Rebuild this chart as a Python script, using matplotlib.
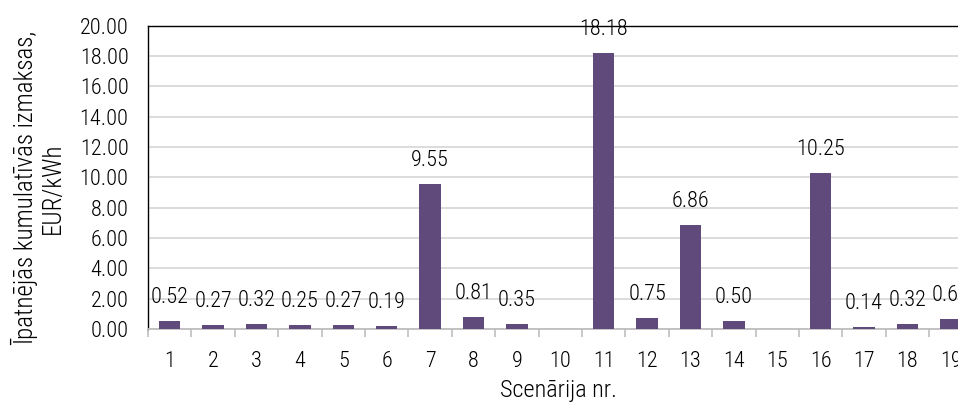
import numpy as np
import matplotlib
matplotlib.use("Agg")
import matplotlib.pyplot as plt
from matplotlib.ticker import FixedLocator, FormatStrFormatter

plt.rcParams['font.family'] = ['Roboto Condensed', 'Liberation Sans', 'DejaVu Sans']
plt.rcParams['font.weight'] = 'light'

# Scenario numbers and specific cumulative cost (EUR/kWh); scenarios 10 and 15 have no value
scenarios = list(range(1, 20))
costs = [0.52, 0.27, 0.32, 0.25, 0.27, 0.19, 9.55, 0.81, 0.35, np.nan,
         18.18, 0.75, 6.86, 0.50, np.nan, 10.25, 0.14, 0.32, 0.66]
y_ticks = [0, 2, 4, 6, 8, 10, 12, 14, 16, 18, 20]

bar_color = '#604A7B'
fs = 16

W, H = 958, 408
fig = plt.figure(figsize=(W / 100, H / 100), dpi=100)
ax = fig.add_axes([148 / W, 79 / H, (972.6 - 148) / W, 303.5 / H])

x = np.array(scenarios, dtype=float)
vals = np.array(costs, dtype=float)
ax.bar(x, np.nan_to_num(vals), width=0.49, color=bar_color, zorder=3)

for xi, v in zip(x, vals):
    if np.isnan(v):
        continue
    ax.annotate(f"{v:.2f}", xy=(xi, v), xytext=(0, 17), textcoords='offset points',
                ha='center', va='center', fontsize=fs, color='#000000',
                annotation_clip=False, zorder=4)

ax.set_xlim(0.5, len(scenarios) + 0.5)
ax.set_ylim(0, 20)

ax.yaxis.set_major_locator(FixedLocator(y_ticks))
ax.yaxis.set_major_formatter(FormatStrFormatter('%.2f'))
ax.tick_params(axis='y', length=0, pad=14, labelsize=fs)

ax.set_xticks(x)
ax.set_xticklabels([str(s) for s in scenarios])
ax.set_xticks(np.arange(0.5, len(scenarios) + 1, 1.0), minor=True)
ax.tick_params(axis='x', which='major', length=0, pad=16, labelsize=fs)
ax.tick_params(axis='x', which='minor', length=6, width=1.2, color='#BFBFBF')

ax.grid(axis='y', color='#D9D9D9', linewidth=1.3, zorder=0)
ax.set_axisbelow(True)

for side in ('top', 'left', 'right'):
    ax.spines[side].set_color('#000000')
    ax.spines[side].set_linewidth(1.0)
ax.spines['bottom'].set_color('#BFBFBF')
ax.spines['bottom'].set_linewidth(1.3)

# Axis titles
fig.text(38 / W, 1 - 188 / H, "Īpatnējās kumulatīvās izmaksas,\nEUR/kWh",
         rotation=90, ha='center', va='center', multialignment='center',
         fontsize=18, linespacing=1.1)
fig.text(558 / W, 1 - 397 / H, "Scenārija nr.", ha='center', va='baseline',
         fontsize=17.5)

fig.savefig("out.png", dpi=100)
